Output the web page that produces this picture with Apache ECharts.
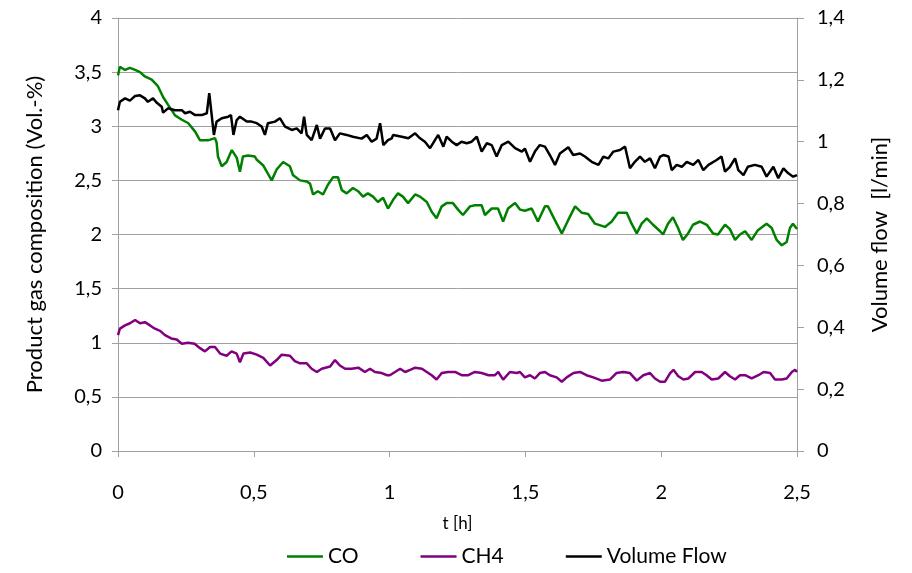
<!DOCTYPE html>
<html>
<head>
<meta charset="utf-8">
<script src="https://cdn.jsdelivr.net/npm/echarts@6/dist/echarts.min.js"></script>
<style>
html,body{margin:0;padding:0;background:#fff;}
#chart{width:912px;height:573px;}
</style>
</head>
<body>
<div id="chart"></div>
<script>
// ---- data ----
var seriesNames = ['CO', 'CH4', 'Volume Flow'];

var coT = [0,0.007,0.026,0.044,0.063,0.081,0.099,0.124,0.147,0.166,0.184,0.210,0.235,0.258,0.284,0.302,0.331,0.357,0.363,0.368,0.382,0.400,0.419,0.437,0.449,0.460,0.479,0.504,0.511,0.534,0.566,0.584,0.608,0.633,0.644,0.670,0.695,0.707,0.718,0.736,0.755,0.773,0.792,0.810,0.824,0.842,0.865,0.884,0.902,0.920,0.939,0.957,0.976,0.994,1.001,1.013,1.031,1.049,1.068,1.094,1.112,1.137,1.155,1.173,1.192,1.210,1.233,1.252,1.270,1.296,1.314,1.339,1.351,1.376,1.399,1.418,1.436,1.462,1.480,1.498,1.523,1.546,1.572,1.583,1.609,1.634,1.657,1.683,1.708,1.731,1.756,1.793,1.818,1.841,1.873,1.891,1.910,1.928,1.947,1.970,1.996,2.007,2.025,2.043,2.062,2.080,2.099,2.117,2.143,2.168,2.191,2.209,2.235,2.253,2.272,2.290,2.309,2.333,2.356,2.388,2.407,2.425,2.444,2.462,2.474,2.485,2.500];
var coV = [3.47,3.55,3.52,3.54,3.52,3.50,3.46,3.43,3.37,3.27,3.20,3.10,3.06,3.03,2.95,2.87,2.87,2.89,2.85,2.72,2.63,2.67,2.78,2.71,2.58,2.72,2.73,2.72,2.69,2.64,2.50,2.60,2.67,2.63,2.55,2.50,2.49,2.47,2.37,2.40,2.37,2.46,2.53,2.53,2.41,2.38,2.43,2.40,2.35,2.38,2.35,2.30,2.34,2.24,2.23,2.32,2.38,2.35,2.29,2.37,2.35,2.30,2.21,2.15,2.26,2.29,2.29,2.23,2.18,2.26,2.27,2.27,2.18,2.24,2.24,2.12,2.24,2.29,2.23,2.22,2.24,2.12,2.26,2.26,2.13,2.01,2.13,2.26,2.20,2.19,2.10,2.07,2.12,2.20,2.20,2.10,2.01,2.10,2.15,2.09,2.03,2.00,2.10,2.16,2.06,1.95,2.01,2.09,2.12,2.09,2.01,2.00,2.09,2.05,1.95,2.00,2.03,1.95,2.04,2.10,2.06,1.95,1.90,1.93,2.06,2.10,2.05];

var ch4T = [0,0.007,0.026,0.044,0.063,0.081,0.099,0.118,0.136,0.155,0.173,0.196,0.216,0.235,0.258,0.282,0.302,0.320,0.339,0.357,0.376,0.400,0.418,0.437,0.449,0.462,0.487,0.511,0.535,0.560,0.584,0.603,0.633,0.651,0.670,0.695,0.713,0.732,0.750,0.781,0.799,0.817,0.836,0.860,0.885,0.909,0.928,0.946,0.971,0.991,1.001,1.020,1.039,1.057,1.076,1.094,1.119,1.137,1.155,1.173,1.192,1.216,1.241,1.265,1.290,1.314,1.339,1.364,1.388,1.400,1.418,1.443,1.468,1.480,1.498,1.517,1.535,1.553,1.572,1.590,1.615,1.634,1.652,1.677,1.701,1.725,1.750,1.781,1.811,1.835,1.860,1.885,1.910,1.934,1.959,1.977,1.996,2.014,2.033,2.045,2.063,2.082,2.100,2.125,2.149,2.167,2.186,2.210,2.235,2.253,2.272,2.290,2.309,2.333,2.358,2.377,2.401,2.419,2.444,2.462,2.481,2.493,2.500];
var ch4V = [1.07,1.13,1.16,1.18,1.21,1.18,1.19,1.16,1.13,1.11,1.07,1.04,1.03,0.99,1.00,0.99,0.95,0.92,0.96,0.96,0.90,0.88,0.92,0.90,0.82,0.90,0.91,0.89,0.86,0.79,0.84,0.89,0.88,0.83,0.81,0.81,0.76,0.73,0.76,0.78,0.84,0.79,0.76,0.76,0.77,0.73,0.76,0.73,0.72,0.70,0.70,0.73,0.76,0.73,0.75,0.77,0.76,0.73,0.70,0.66,0.72,0.73,0.73,0.70,0.70,0.73,0.72,0.70,0.70,0.73,0.66,0.73,0.72,0.73,0.68,0.70,0.67,0.72,0.73,0.70,0.68,0.64,0.68,0.72,0.73,0.70,0.68,0.65,0.66,0.72,0.73,0.72,0.65,0.70,0.72,0.67,0.64,0.64,0.72,0.75,0.69,0.66,0.67,0.73,0.73,0.70,0.66,0.67,0.73,0.69,0.66,0.70,0.70,0.67,0.70,0.73,0.72,0.66,0.66,0.67,0.73,0.75,0.73];

var vfT = [0,0.007,0.026,0.044,0.063,0.081,0.099,0.110,0.129,0.144,0.161,0.166,0.184,0.210,0.235,0.247,0.265,0.284,0.308,0.327,0.336,0.345,0.353,0.363,0.382,0.406,0.416,0.425,0.437,0.449,0.474,0.492,0.511,0.529,0.541,0.552,0.578,0.596,0.615,0.640,0.658,0.676,0.685,0.695,0.713,0.732,0.744,0.762,0.781,0.799,0.817,0.842,0.865,0.897,0.916,0.934,0.952,0.965,0.977,0.994,1.008,1.013,1.045,1.069,1.094,1.112,1.130,1.149,1.167,1.179,1.198,1.210,1.229,1.247,1.265,1.284,1.302,1.321,1.339,1.358,1.376,1.394,1.413,1.437,1.462,1.487,1.498,1.517,1.535,1.553,1.572,1.590,1.609,1.627,1.658,1.676,1.701,1.719,1.744,1.769,1.787,1.805,1.824,1.848,1.867,1.885,1.903,1.922,1.940,1.959,1.977,1.996,2.008,2.027,2.039,2.057,2.076,2.094,2.118,2.137,2.155,2.174,2.204,2.222,2.235,2.253,2.272,2.284,2.303,2.319,2.345,2.370,2.388,2.413,2.431,2.450,2.468,2.486,2.500];
var vfV = [1.102,1.129,1.140,1.133,1.148,1.150,1.140,1.129,1.140,1.125,1.113,1.094,1.108,1.102,1.102,1.092,1.097,1.086,1.086,1.092,1.157,1.086,1.022,1.065,1.076,1.081,1.086,1.022,1.070,1.081,1.065,1.065,1.060,1.049,1.022,1.060,1.065,1.076,1.049,1.038,1.043,1.027,1.081,1.022,1.005,1.054,1.010,1.043,1.043,1.005,1.027,1.022,1.016,1.010,1.022,1.000,1.010,1.060,0.989,1.005,1.011,1.022,1.016,1.011,1.027,1.011,1.000,0.979,1.005,1.022,0.984,1.016,1.000,0.989,1.000,0.995,1.000,1.016,0.968,0.995,0.989,0.952,0.989,1.000,0.979,0.968,0.978,0.935,0.968,0.989,0.984,0.957,0.925,0.962,0.982,0.957,0.962,0.952,0.935,0.925,0.952,0.946,0.968,0.973,0.984,0.914,0.935,0.952,0.935,0.946,0.914,0.952,0.957,0.952,0.908,0.925,0.919,0.935,0.925,0.941,0.908,0.925,0.941,0.952,0.903,0.919,0.946,0.908,0.892,0.919,0.925,0.919,0.887,0.919,0.882,0.914,0.898,0.887,0.892];

var xTickValues = [0, 0.5, 1, 1.5, 2, 2.5];
var leftTickValues = [0, 0.5, 1, 1.5, 2, 2.5, 3, 3.5, 4];
var rightTickValues = [0, 0.2, 0.4, 0.6, 0.8, 1, 1.2, 1.4];

// ---- helpers ----
function pairs(t, v) { return t.map(function (x, i) { return [x, v[i]]; }); }
function comma(v) { return String(+v.toFixed(2)).replace('.', ','); }

var FONT = 'Lato, "Open Sans", sans-serif';
var GREY = '#a0a0a0';

var chart = echarts.init(document.getElementById('chart'), null, {renderer: 'canvas'});
chart.setOption({
  animation: false,
  backgroundColor: '#ffffff',
  textStyle: {fontFamily: FONT, color: '#000'},
  grid: {left: 118, right: 115, top: 18, bottom: 122, containLabel: false},
  legend: {
    bottom: 1, left: 282,
    data: seriesNames,
    icon: 'rect', itemWidth: 36, itemHeight: 2.5, itemGap: 62,
    textStyle: {fontFamily: FONT, fontSize: 21, color: '#000'}
  },
  xAxis: {
    type: 'value', min: xTickValues[0], max: xTickValues[xTickValues.length - 1], interval: 0.5,
    name: 't [h]', nameLocation: 'middle', nameGap: 64,
    nameTextStyle: {fontFamily: FONT, fontSize: 17, color: '#000'},
    axisLine: {show: true, lineStyle: {color: GREY, width: 1}},
    axisTick: {show: true, length: 6, lineStyle: {color: GREY}},
    splitLine: {show: false},
    axisLabel: {margin: 32, fontSize: 20, color: '#000', fontFamily: FONT, formatter: comma}
  },
  yAxis: [{
    type: 'value', position: 'left', min: 0, max: 4, interval: 0.5,
    name: 'Product gas composition (Vol.-%)', nameLocation: 'middle', nameRotate: 90, nameGap: 72,
    nameTextStyle: {fontFamily: FONT, fontSize: 22, color: '#000'},
    axisLine: {show: true, lineStyle: {color: GREY, width: 1}},
    axisTick: {show: true, length: 6, lineStyle: {color: GREY}},
    splitLine: {show: true, lineStyle: {color: GREY, width: 1}},
    axisLabel: {margin: 16, fontSize: 20, color: '#000', fontFamily: FONT, formatter: comma}
  }, {
    type: 'value', position: 'right', min: 0, max: 1.4, interval: 0.2,
    name: 'Volume flow  [l/min]', nameLocation: 'middle', nameRotate: 90, nameGap: 72,
    nameTextStyle: {fontFamily: FONT, fontSize: 22, color: '#000'},
    axisLine: {show: true, lineStyle: {color: GREY, width: 1}},
    axisTick: {show: true, length: 7, lineStyle: {color: GREY}},
    splitLine: {show: false},
    axisLabel: {margin: 20, fontSize: 20, color: '#000', fontFamily: FONT, formatter: comma}
  }],
  series: [{
    name: seriesNames[0], type: 'line', yAxisIndex: 0, showSymbol: false, symbol: 'none',
    data: pairs(coT, coV), lineStyle: {color: '#008000', width: 2.5}, itemStyle: {color: '#008000'}
  }, {
    name: seriesNames[1], type: 'line', yAxisIndex: 0, showSymbol: false, symbol: 'none',
    data: pairs(ch4T, ch4V), lineStyle: {color: '#800080', width: 2.5}, itemStyle: {color: '#800080'}
  }, {
    name: seriesNames[2], type: 'line', yAxisIndex: 1, showSymbol: false, symbol: 'none',
    data: pairs(vfT, vfV), lineStyle: {color: '#000000', width: 2.5}, itemStyle: {color: '#000000'}
  }]
});
</script>
</body>
</html>
